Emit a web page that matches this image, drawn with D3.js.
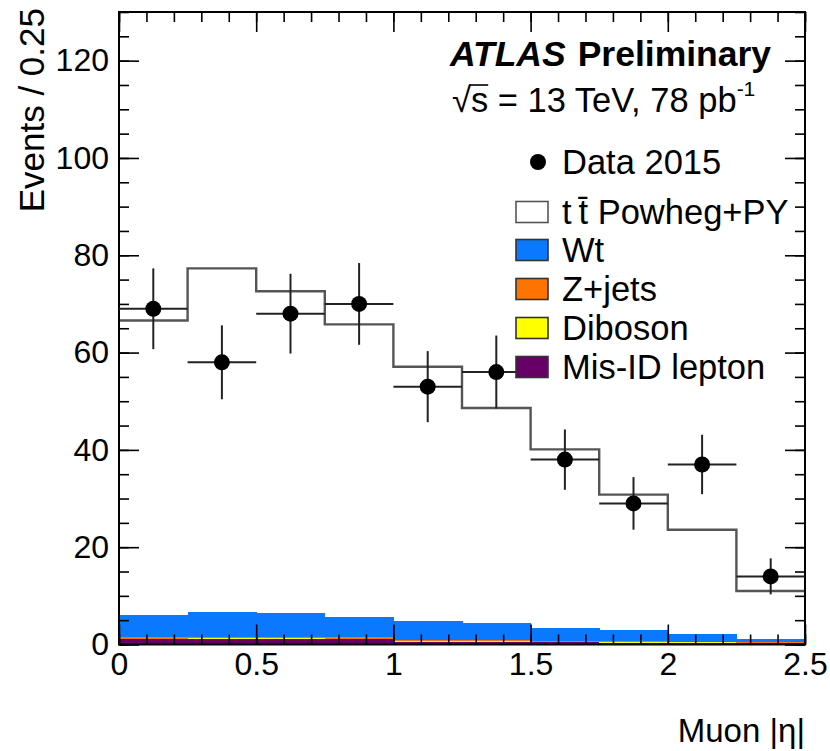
<!DOCTYPE html>
<html>
<head>
<meta charset="utf-8">
<script src="https://cdn.jsdelivr.net/npm/d3@7"></script>
<style>
  body { margin: 0; background: #fff; }
  text { font-family: "Liberation Sans", Arial, Helvetica, sans-serif; fill: #000; }
</style>
</head>
<body>
<svg id="chart" width="830" height="751"></svg>
<script>
// bin edges in muon |eta|
var binEdges = [0, 0.25, 0.5, 0.75, 1.0, 1.25, 1.5, 1.75, 2.0, 2.25, 2.5];

// data 2015 and its (poisson) error bars
var dataCounts = [69, 58, 68, 70, 53, 56, 38, 29, 37, 14];
var dataErrors = [8.3, 7.6, 8.2, 8.4, 7.3, 7.5, 6.2, 5.4, 6.1, 3.7];

// MC predictions, stacked bottom -> top: misid, diboson, zjets, wt, ttbar
var ttbar   = [60.5, 70.6, 66.1, 60.1, 52.3, 44.2, 36.7, 27.9, 21.4, 9.8];
var wt      = [4.6, 5.1, 4.9, 4.2, 3.9, 3.5, 2.6, 2.25, 1.6, 0.75];
var zjets   = [0.3, 0.3, 0.3, 0.3, 0.2, 0.2, 0.2, 0.15, 0.15, 0.1];
var diboson = [0.1, 0.1, 0.1, 0.1, 0.1, 0.1, 0.1, 0.1, 0.05, 0.05];
var misid   = [1.1, 1.2, 1.2, 1.1, 0.6, 0.6, 0.5, 0.4, 0.4, 0.3];

var xMajorTicks = [0, 0.5, 1, 1.5, 2, 2.5];
var yMajorTicks = [0, 20, 40, 60, 80, 100, 120];

var legendLabels = ["Data 2015", "t\u2009t\u0304 Powheg+PY", "Wt", "Z+jets", "Diboson", "Mis-ID lepton"];

var margin = {left: 119, right: 25, top: 12, bottom: 106.5};
var width = 830 - margin.left - margin.right,
    height = 751 - margin.top - margin.bottom;

var svg = d3.select('#chart');

var x = d3.scaleLinear().domain([0, 2.5]).range([margin.left, margin.left + width]);
var y = d3.scaleLinear().domain([0, 130]).range([margin.top + height, margin.top]);

// build the stack
var keys = ['misid', 'diboson', 'zjets', 'wt', 'ttbar'];
var colors = {misid: '#660066', diboson: '#ffff00', zjets: '#ff7300', wt: '#0a78ff', ttbar: '#ffffff'};
var rows = dataCounts.map(function (d, i) {
    return {i: i, misid: misid[i], diboson: diboson[i], zjets: zjets[i], wt: wt[i], ttbar: ttbar[i]};
});
var stacked = d3.stack().keys(keys)(rows);

// filled backgrounds (all but ttbar, which is white)
stacked.slice(0, 4).forEach(function (layer) {
    svg.append('g').attr('shape-rendering', 'crispEdges').selectAll('rect')
        .data(layer).enter()
        .append('rect')
        .attr('x', function (d) { return x(binEdges[d.data.i]); })
        .attr('width', function (d) { return x(binEdges[d.data.i + 1]) - x(binEdges[d.data.i]) + 0.5; })
        .attr('y', function (d) { return y(d[1]); })
        .attr('height', function (d) { return y(d[0]) - y(d[1]); })
        .attr('fill', colors[layer.key]);
});

// total MC outline (ttbar on top of stack)
var topLayer = stacked[stacked.length - 1];
var stepPts = topLayer.map(function (d) { return [binEdges[d.data.i], d[1]]; });
stepPts.push([binEdges[binEdges.length - 1], topLayer[topLayer.length - 1][1]]);
svg.append('path')
    .datum(stepPts)
    .attr('fill', 'none')
    .attr('stroke', '#555')
    .attr('stroke-width', 2.4)
    .attr('d', d3.line()
        .x(function (d) { return x(d[0]); })
        .y(function (d) { return y(d[1]); })
        .curve(d3.curveStepAfter));

// axes: ticks inside on all four sides
function minorTicks(step, max) {
    return d3.range(0, max + 1e-9, step).map(function (v) { return +v.toFixed(3); });
}
var xMinor = minorTicks(0.1, 2.5), yMinor = minorTicks(5, 130);

function styleAxis(g) {
    g.select('.domain').remove();
    g.selectAll('line').attr('stroke', '#000').attr('stroke-width', 1.6);
    g.selectAll('text').attr('font-size', 32).attr('fill', '#000');
}

svg.append('g').attr('transform', 'translate(0,' + y(0) + ')')
    .call(d3.axisBottom(x).tickValues(xMinor).tickSize(-10).tickFormat(''))
    .call(styleAxis);
svg.append('g').attr('transform', 'translate(0,' + y(0) + ')')
    .call(d3.axisBottom(x).tickValues(xMajorTicks).tickSize(-20).tickPadding(8)
        .tickFormat(function (d) { return d3.format('~g')(d); }))
    .call(styleAxis);
svg.append('g').attr('transform', 'translate(0,' + y(130) + ')')
    .call(d3.axisTop(x).tickValues(xMinor).tickSize(-10).tickFormat(''))
    .call(styleAxis);
svg.append('g').attr('transform', 'translate(0,' + y(130) + ')')
    .call(d3.axisTop(x).tickValues(xMajorTicks).tickSize(-20).tickFormat(''))
    .call(styleAxis);

svg.append('g').attr('transform', 'translate(' + x(0) + ',0)')
    .call(d3.axisLeft(y).tickValues(yMinor).tickSize(-10).tickFormat(''))
    .call(styleAxis);
svg.append('g').attr('transform', 'translate(' + x(0) + ',0)')
    .call(d3.axisLeft(y).tickValues(yMajorTicks).tickSize(-20).tickPadding(10))
    .call(styleAxis);
svg.append('g').attr('transform', 'translate(' + x(2.5) + ',0)')
    .call(d3.axisRight(y).tickValues(yMinor).tickSize(-10).tickFormat(''))
    .call(styleAxis);
svg.append('g').attr('transform', 'translate(' + x(2.5) + ',0)')
    .call(d3.axisRight(y).tickValues(yMajorTicks).tickSize(-20).tickFormat(''))
    .call(styleAxis);

// frame
svg.append('rect')
    .attr('x', x(0)).attr('y', y(130))
    .attr('width', x(2.5) - x(0)).attr('height', y(0) - y(130))
    .attr('fill', 'none').attr('stroke', '#000').attr('stroke-width', 2);

// data points with error bars
var pts = svg.append('g');
dataCounts.forEach(function (d, i) {
    var cx = x((binEdges[i] + binEdges[i + 1]) / 2);
    pts.append('line')
        .attr('x1', x(binEdges[i])).attr('x2', x(binEdges[i + 1]))
        .attr('y1', y(d)).attr('y2', y(d))
        .attr('stroke', '#222').attr('stroke-width', 2);
    pts.append('line')
        .attr('x1', cx).attr('x2', cx)
        .attr('y1', y(d - dataErrors[i])).attr('y2', y(d + dataErrors[i]))
        .attr('stroke', '#222').attr('stroke-width', 2);
    pts.append('circle').attr('cx', cx).attr('cy', y(d)).attr('r', 8).attr('fill', '#000');
});

// axis titles
svg.append('text')
    .attr('transform', 'translate(44,8) rotate(-90)')
    .attr('text-anchor', 'end')
    .attr('font-size', 35)
    .text('Events / 0.25');
svg.append('text')
    .attr('x', x(2.5)).attr('y', 742)
    .attr('text-anchor', 'end')
    .attr('font-size', 33)
    .text('Muon |\u03b7|');

// ATLAS label
var atlas = svg.append('text').attr('x', 450).attr('y', 66).attr('font-size', 35.5).attr('font-weight', 'bold');
atlas.append('tspan').attr('font-style', 'italic').text('ATLAS');
atlas.append('tspan').attr('dx', 12).text('Preliminary');

var lumi = svg.append('text').attr('x', 452).attr('y', 112).attr('font-size', 34.5);
lumi.append('tspan').text('\u221as = 13 TeV, 78 pb');
lumi.append('tspan').attr('dy', -16).attr('font-size', 21).text('-1');
var sq0 = lumi.node().getSubStringLength(0, 1), sq1 = lumi.node().getSubStringLength(1, 1);
svg.append('line')
    .attr('x1', 452 + sq0 - 2).attr('x2', 452 + sq0 + sq1)
    .attr('y1', 85).attr('y2', 85)
    .attr('stroke', '#000').attr('stroke-width', 1.6);

// legend
var legY = [162, 212, 250, 289, 328, 367];
var legFill = [null, '#ffffff', colors.wt, colors.zjets, colors.diboson, colors.misid];
var leg = svg.append('g');
legendLabels.forEach(function (label, i) {
    if (i === 0) {
        leg.append('circle').attr('cx', 538).attr('cy', legY[i]).attr('r', 8).attr('fill', '#000');
    } else {
        leg.append('rect')
            .attr('x', 516).attr('y', legY[i] - 10.5)
            .attr('width', 32).attr('height', 21)
            .attr('fill', legFill[i])
            .attr('stroke', i === 1 ? '#555' : '#333')
            .attr('stroke-width', 1.6);
    }
    leg.append('text')
        .attr('x', 562).attr('y', legY[i]).attr('dy', '0.36em')
        .attr('font-size', 34.5)
        .text(label);
});
</script>
</body>
</html>
